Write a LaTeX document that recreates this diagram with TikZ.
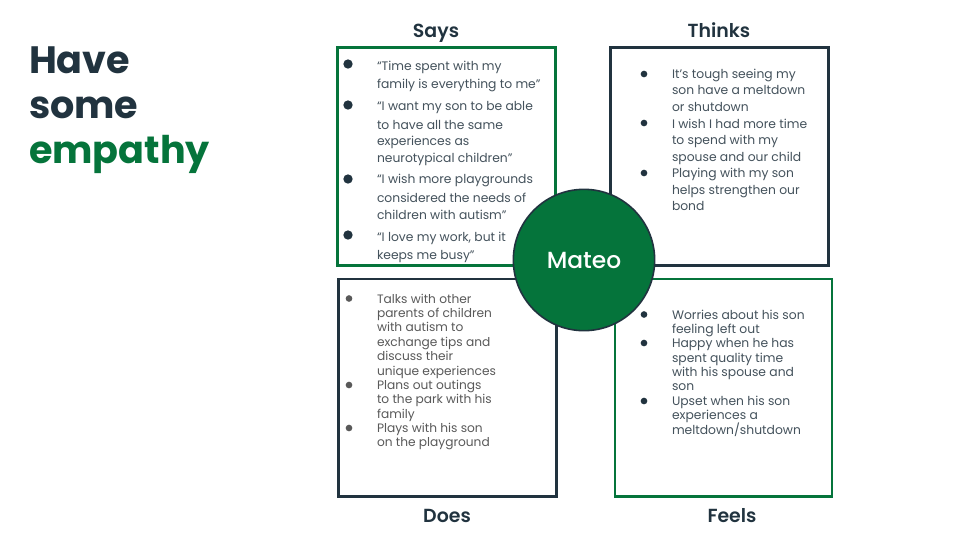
\documentclass[tikz,border=0pt]{standalone}
\usepackage{fontspec}
\setmainfont{Poppins}
\newfontfamily\semi{Poppins SemiBold}
\newfontfamily\medi{Poppins Medium}
\definecolor{dk}{HTML}{21333F}
\definecolor{gr}{HTML}{05743B}
\definecolor{tx}{HTML}{595959}
\definecolor{tb}{HTML}{44525C}
\tikzset{
 every node/.style={inner sep=0pt,outer sep=0pt},
 boxln/.style={line width=2.1pt,line join=miter},
 head/.style={font=\semi\fontsize{14.2}{16}\selectfont,text=dk,anchor=center,text height=10pt,text depth=3pt},
 ttl/.style={font=\bfseries\fontsize{28.6}{33}\selectfont,anchor=west,text height=22pt,text depth=6pt},
 ln/.style={font=\fontsize{9.25}{11}\selectfont,text=tb,anchor=west,text height=7pt,text depth=2pt,yshift=-0.5pt},
 lnb/.style={font=\fontsize{9.15}{11}\selectfont,text=tx,anchor=west,text height=7pt,text depth=2pt,yshift=-0.5pt},
 bul/.style={circle,fill=#1,minimum size=5pt}
}
\begin{document}
\begin{tikzpicture}[x=0.75pt,y=-0.75pt]
\useasboundingbox (0,0) rectangle (960,540);
\fill[white] (0,0) rectangle (960,540);
\node[ttl,text=dk] (t1) at (29,63) {Have};
\node[ttl,text=dk] (t2) at (29,108) {some};
\node[ttl,text=gr] (t3) at (29,153) {empathy};
\path[draw=gr,boxln] (337.5,47.5) rectangle (555.3,265.3);
\path[draw=dk,boxln] (610.5,47.5) rectangle (828.7,265.3);
\path[draw=dk,boxln] (338.5,279) rectangle (556.3,496.7);
\path[draw=gr,boxln] (615,279) rectangle (832,496.7);
\node[head] (h1) at (436,33) {Says};
\node[head] (h2) at (719,33) {Thinks};
\node[head] (h3) at (447,518) {Does};
\node[head] (h4) at (732,518) {Feels};
\foreach \y/\s [count=\i] in {66/{“Time spent with my},84.7/{family is everything to me”},106.7/{“I want my son to be able},125.4/{to have all the same},141.7/{experiences as},158.4/{neurotypical children”},179.7/{“I wish more playgrounds},198.7/{considered the needs of},215.4/{children with autism”},237.4/{“I love my work, but it},255.7/{keeps me busy”}}
  \node[ln] (a\i) at (377,\y) {\s};
\foreach \y in {64,105,179,235} \node[bul=dk,minimum size=7pt] at (348,\y) {};
\foreach \y/\s [count=\i] in {74.4/{It’s tough seeing my},90.7/{son have a meltdown},107.4/{or shutdown},124/{I wish I had more time},140.7/{to spend with my},157.4/{spouse and our child},173.7/{Playing with my son},190.4/{helps strengthen our},206.7/{bond}}
  \node[ln] (b\i) at (672,\y) {\s};
\foreach \y in {74,123,173} \node[bul=dk,minimum size=5pt] at (644,\y) {};
\foreach \y/\s [count=\i] in {299/{Talks with other},313.4/{parents of children},327.7/{with autism to},342/{exchange tips and},356.4/{discuss their},371/{unique experiences},385.4/{Plans out outings},399.7/{to the park with his},414/{family},428.4/{Plays with his son},442.7/{on the playground}}
  \node[lnb] (c\i) at (377,\y) {\s};
\foreach \y in {298.5,385,428} \node[bul=tx,minimum size=5pt] at (349,\y) {};
\foreach \y/\s [count=\i] in {315/{Worries about his son},329.4/{feeling left out},343.7/{Happy when he has},358/{spent quality time},372.4/{with his spouse and},386.7/{son},401.4/{Upset when his son},415.7/{experiences a},430/{meltdown/shutdown}}
  \node[ln] (d\i) at (672,\y) {\s};
\foreach \y in {314.5,343,401} \node[bul=dk,minimum size=5pt] at (644,\y) {};
\node[circle,fill=gr,draw=dk,line width=1.2pt,minimum size=106pt,text=white,font=\medi\fontsize{17.5}{18}\selectfont] (m) at (584,260) {Mateo};
\end{tikzpicture}
\end{document}
